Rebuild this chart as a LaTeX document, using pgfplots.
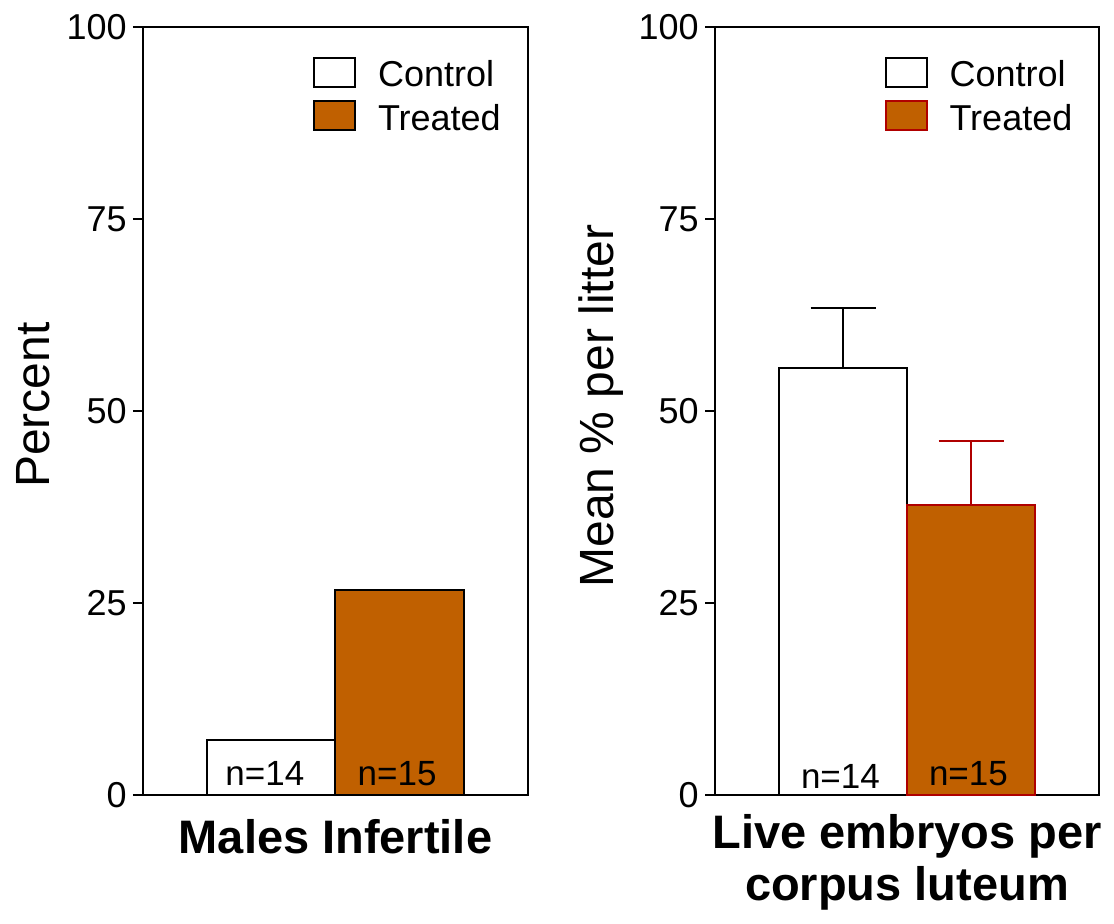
\documentclass[border=0pt]{standalone}
\usepackage{fontspec}
\setmainfont{Liberation Sans}
\usepackage{pgfplots}
\pgfplotsset{compat=1.18}
\definecolor{treat}{RGB}{192,96,0}
\definecolor{tedge}{RGB}{176,0,0}
\pgfplotsset{
 mylegend/.style={legend image code/.code={\draw[##1, line width=1pt] (0pt,0pt) rectangle (20.5pt,14.5pt);}},
 panel/.style={
  scale only axis, height=384pt,
  xmin=-1, xmax=2, ymin=0, ymax=100,
  xtick=\empty, ytick={0,25,50,75,100},
  ytick pos=left, tick align=outside,
  major tick length=5pt,
  major tick style={black, line width=1pt},
  axis line style={line width=1.3pt},
  /pgf/number format/assume math mode=true,
  yticklabel style={font=\fontsize{18}{18}\selectfont, inner sep=0pt, xshift=-3pt},
  every axis plot/.append style={ybar, bar width=1, bar shift=0pt, line width=1pt, mylegend},
  legend style={draw=none, fill=none, inner sep=0pt, outer sep=0pt, column sep=11pt, row sep=5.25pt,
    font=\fontsize{18}{18}\selectfont, at={(0.4416,0.961)}, anchor=north west,
    nodes={inner sep=0pt, anchor=base west}},
  error bars/error bar style={line width=1pt},
 }
}
\begin{document}
\begin{tikzpicture}
\begin{axis}[panel, width=192.5pt, name=L, at={(0,0)}, anchor=south west,
  ylabel={Percent},
  ylabel style={font=\fontsize{24}{26}\selectfont, at={([xshift=-46.5pt,yshift=3pt]axis description cs:0,0.5)}, anchor=base},
  xlabel={Males Infertile},
  xlabel style={font=\bfseries\fontsize{23.5}{26}\selectfont, at={([yshift=-29pt]axis description cs:0.5,0)}, anchor=base},
]
\addplot[fill=white, draw=black] coordinates {(0,7.14)};
\addplot[fill=treat, draw=black] coordinates {(1,26.67)};
\legend{Control,Treated}
\node[font=\fontsize{17.5}{17.5}\selectfont, anchor=base] at (axis cs:-0.05,1.3) {n=14};
\node[font=\fontsize{17.5}{17.5}\selectfont, anchor=base] at (axis cs:0.98,1.3) {n=15};
\end{axis}
\begin{axis}[panel, width=192pt, name=R, at={(286pt,0)}, anchor=south west,
  ylabel={Mean \% per litter},
  ylabel style={font=\fontsize{24}{26}\selectfont, at={([xshift=-51pt,yshift=2.5pt]axis description cs:0,0.5)}, anchor=base},
  xlabel={Live embryos per\\corpus luteum},
  xlabel style={font=\bfseries\fontsize{23.5}{26}\selectfont, align=center, at={([yshift=-52.5pt]axis description cs:0.5,0)}, anchor=base},
]
\addplot[fill=white, draw=black, error bars/.cd, y dir=plus, y explicit,
  error bar style={black, line width=1pt},
  error mark options={rotate=90, mark size=16.25pt, line width=1pt, black}]
  coordinates {(0,55.6) +- (0,7.8)};
\addplot[fill=treat, draw=tedge, error bars/.cd, y dir=plus, y explicit,
  error bar style={tedge, line width=1pt},
  error mark options={rotate=90, mark size=16.25pt, line width=1pt, tedge}]
  coordinates {(1,37.8) +- (0,8.3)};
\legend{Control,Treated}
\node[font=\fontsize{17.5}{17.5}\selectfont, anchor=base] at (axis cs:-0.02,0.9) {n=14};
\node[font=\fontsize{17.5}{17.5}\selectfont, anchor=base] at (axis cs:0.98,1.3) {n=15};
\end{axis}
\pgfresetboundingbox
\path[use as bounding box] (-71.5pt,-64pt) rectangle (485.5pt,397.5pt);
\end{tikzpicture}
\end{document}
